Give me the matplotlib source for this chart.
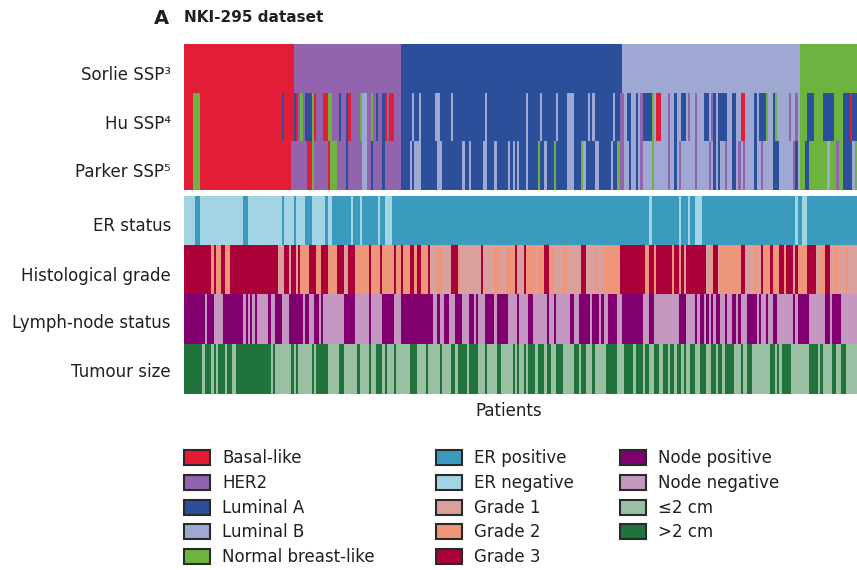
import numpy as np
import matplotlib.pyplot as plt
from matplotlib.colors import to_rgb
from matplotlib.patches import Rectangle

plt.rcParams["font.family"] = ["DejaVu Sans"]

N_PATIENTS = 295
TEXT = "#231f20"

# Category colours
SUBTYPE_COLORS = {"B": "#e31d35", "H": "#9264ad", "A": "#2b4f9b", "L": "#9fa8d2", "N": "#6db33f"}
ER_COLORS = {"P": "#3a9bbf", "N": "#a3d4e3"}
GRADE_COLORS = {"1": "#d9a09e", "2": "#ee967a", "3": "#ab0038"}
NODE_COLORS = {"P": "#800070", "N": "#c397c0"}
SIZE_COLORS = {"S": "#9ac0a3", "L": "#1f733b"}

# Each row is a list of (first patient index, category); a run lasts until the next start.
SORLIE = [(0, "B"), (48, "H"), (95, "A"), (192, "L"), (270, "N")]

HU = [(0, "B"), (4, "N"), (7, "B"), (43, "A"), (44, "B"), (48, "A"), (49, "B"), (50, "H"),
      (51, "N"), (52, "H"), (53, "A"), (56, "N"), (57, "B"), (58, "H"), (61, "B"), (63, "N"),
      (65, "H"), (68, "A"), (69, "H"), (71, "A"), (72, "B"), (73, "H"), (77, "N"), (78, "L"),
      (80, "H"), (82, "N"), (83, "H"), (84, "A"), (85, "H"), (87, "A"), (88, "B"), (89, "H"),
      (90, "B"), (92, "H"), (95, "A"), (100, "L"), (101, "A"), (103, "L"), (104, "A"),
      (110, "L"), (112, "A"), (117, "L"), (118, "A"), (132, "L"), (133, "A"), (150, "L"),
      (151, "A"), (156, "L"), (157, "A"), (163, "L"), (164, "A"), (168, "L"), (171, "A"),
      (177, "L"), (178, "A"), (179, "L"), (180, "A"), (188, "L"), (189, "A"), (191, "H"),
      (193, "L"), (194, "A"), (196, "L"), (198, "A"), (199, "L"), (200, "H"), (201, "A"),
      (205, "N"), (206, "L"), (207, "B"), (209, "L"), (212, "H"), (213, "L"), (215, "A"),
      (216, "L"), (218, "A"), (220, "L"), (221, "H"), (222, "L"), (224, "H"), (225, "L"),
      (228, "A"), (230, "L"), (231, "H"), (232, "A"), (233, "L"), (234, "A"), (238, "L"),
      (240, "A"), (242, "L"), (244, "B"), (246, "L"), (250, "A"), (251, "L"), (252, "A"),
      (255, "N"), (256, "L"), (258, "A"), (259, "N"), (260, "L"), (265, "H"), (266, "L"),
      (268, "H"), (269, "L"), (270, "N"), (273, "A"), (276, "N"), (280, "A"), (285, "N"),
      (289, "A"), (292, "B"), (293, "A")]

PARKER = [(0, "B"), (4, "N"), (7, "B"), (47, "H"), (54, "B"), (56, "N"), (57, "H"), (63, "B"),
          (64, "N"), (67, "H"), (71, "A"), (72, "H"), (78, "L"), (80, "H"), (82, "A"), (83, "H"),
          (87, "A"), (88, "H"), (95, "A"), (99, "L"), (100, "A"), (101, "L"), (104, "A"),
          (111, "L"), (113, "A"), (122, "L"), (123, "A"), (125, "L"), (126, "A"), (131, "L"),
          (133, "A"), (136, "L"), (137, "A"), (142, "L"), (143, "A"), (144, "L"), (145, "A"),
          (146, "L"), (147, "A"), (150, "L"), (151, "A"), (155, "N"), (156, "A"), (158, "L"),
          (159, "A"), (162, "N"), (163, "A"), (168, "L"), (171, "A"), (174, "N"), (175, "L"),
          (176, "A"), (180, "L"), (182, "A"), (187, "L"), (188, "A"), (190, "N"), (191, "H"),
          (193, "L"), (195, "A"), (196, "L"), (198, "A"), (199, "L"), (200, "H"), (201, "L"),
          (205, "N"), (206, "L"), (212, "H"), (213, "L"), (215, "A"), (216, "L"), (217, "H"),
          (218, "L"), (224, "H"), (225, "L"), (230, "H"), (231, "L"), (232, "A"), (233, "L"),
          (234, "A"), (235, "L"), (237, "H"), (238, "L"), (240, "A"), (242, "L"), (243, "H"),
          (244, "L"), (245, "H"), (246, "L"), (250, "A"), (251, "L"), (253, "H"), (254, "L"),
          (258, "A"), (261, "L"), (267, "H"), (268, "A"), (269, "L"), (270, "N"), (272, "A"),
          (274, "N"), (282, "L"), (283, "N"), (286, "H"), (287, "N"), (289, "A"), (293, "L"),
          (294, "N")]

ER_STATUS = [(0, "N"), (5, "P"), (7, "N"), (26, "P"), (28, "N"), (43, "P"), (44, "N"), (48, "P"),
             (49, "N"), (53, "P"), (56, "N"), (62, "P"), (63, "N"), (65, "P"), (73, "N"), (74, "P"),
             (77, "N"), (78, "P"), (85, "N"), (86, "P"), (88, "N"), (91, "P"), (204, "N"),
             (205, "P"), (217, "N"), (218, "P"), (221, "N"), (222, "P"), (224, "N"), (227, "P"),
             (268, "N"), (269, "P"), (271, "N"), (273, "P")]

GRADE = [(0, "3"), (12, "2"), (13, "3"), (14, "2"), (16, "3"), (18, "2"), (20, "3"), (41, "1"),
         (44, "3"), (46, "1"), (47, "3"), (49, "1"), (50, "3"), (51, "2"), (55, "3"), (58, "2"),
         (60, "3"), (63, "2"), (67, "3"), (70, "1"), (72, "3"), (75, "2"), (81, "3"), (82, "2"),
         (86, "3"), (87, "2"), (92, "3"), (93, "2"), (95, "3"), (96, "2"), (99, "3"), (101, "2"),
         (102, "3"), (104, "2"), (107, "3"), (108, "1"), (111, "2"), (113, "1"), (117, "3"),
         (120, "2"), (121, "1"), (130, "3"), (131, "1"), (136, "2"), (138, "1"), (141, "2"),
         (145, "3"), (146, "1"), (149, "3"), (150, "2"), (154, "1"), (155, "2"), (158, "3"),
         (160, "2"), (162, "1"), (166, "2"), (168, "1"), (174, "3"), (176, "1"), (180, "2"),
         (181, "1"), (184, "2"), (191, "3"), (202, "2"), (204, "3"), (206, "2"), (207, "3"),
         (214, "2"), (215, "3"), (217, "2"), (218, "3"), (219, "1"), (220, "3"), (229, "1"),
         (231, "2"), (232, "3"), (234, "1"), (235, "2"), (244, "3"), (246, "1"), (250, "2"),
         (251, "1"), (253, "3"), (254, "2"), (257, "3"), (258, "2"), (261, "3"), (263, "2"),
         (264, "3"), (267, "1"), (268, "3"), (269, "2"), (273, "3"), (277, "1"), (279, "2"),
         (281, "3"), (283, "1"), (285, "2"), (287, "1"), (290, "2"), (291, "1")]

NODE = [(0, "P"), (9, "N"), (10, "P"), (13, "N"), (17, "P"), (26, "N"), (27, "P"), (28, "N"),
        (29, "P"), (30, "N"), (31, "P"), (32, "N"), (37, "P"), (38, "N"), (40, "P"), (43, "N"),
        (46, "P"), (52, "N"), (53, "P"), (55, "N"), (57, "P"), (59, "N"), (60, "P"), (61, "N"),
        (70, "P"), (75, "N"), (81, "P"), (82, "N"), (87, "P"), (92, "N"), (95, "P"), (109, "N"),
        (111, "P"), (112, "N"), (114, "P"), (116, "N"), (119, "P"), (122, "N"), (125, "P"),
        (127, "N"), (128, "P"), (129, "N"), (132, "P"), (136, "N"), (137, "P"), (142, "N"),
        (146, "P"), (147, "N"), (151, "P"), (153, "N"), (159, "P"), (160, "N"), (162, "P"),
        (163, "N"), (169, "P"), (171, "N"), (173, "P"), (178, "N"), (179, "P"), (182, "N"),
        (183, "P"), (184, "N"), (186, "P"), (190, "N"), (192, "P"), (201, "N"), (204, "P"),
        (206, "N"), (217, "P"), (220, "N"), (224, "P"), (225, "N"), (226, "P"), (228, "N"),
        (229, "P"), (230, "N"), (231, "P"), (232, "N"), (233, "P"), (235, "N"), (237, "P"),
        (238, "N"), (240, "P"), (242, "N"), (243, "P"), (244, "N"), (247, "P"), (251, "N"),
        (252, "P"), (253, "N"), (255, "P"), (256, "N"), (258, "P"), (260, "N"), (267, "P"),
        (268, "N"), (269, "P"), (274, "N"), (281, "P"), (283, "N"), (284, "P"), (288, "N")]

TUMOUR_SIZE = [(0, "L"), (8, "S"), (9, "L"), (12, "S"), (13, "L"), (14, "S"), (15, "L"), (18, "S"),
               (19, "L"), (21, "S"), (23, "L"), (38, "S"), (39, "L"), (40, "S"), (47, "L"), (48, "S"),
               (49, "L"), (50, "S"), (56, "L"), (57, "S"), (58, "L"), (63, "S"), (68, "L"), (70, "S"),
               (76, "L"), (77, "S"), (81, "L"), (82, "S"), (84, "L"), (87, "S"), (88, "L"), (89, "S"),
               (92, "L"), (93, "S"), (99, "L"), (102, "S"), (106, "L"), (107, "S"), (112, "L"),
               (113, "S"), (117, "L"), (119, "S"), (120, "L"), (124, "S"), (125, "L"), (129, "S"),
               (132, "L"), (133, "S"), (137, "L"), (139, "S"), (144, "L"), (145, "S"), (146, "L"),
               (147, "S"), (149, "L"), (150, "S"), (151, "L"), (154, "S"), (155, "L"), (158, "S"),
               (159, "L"), (161, "S"), (163, "L"), (166, "S"), (171, "L"), (173, "S"), (174, "L"),
               (176, "S"), (179, "L"), (180, "S"), (185, "L"), (190, "S"), (193, "L"), (197, "S"),
               (198, "L"), (201, "S"), (202, "L"), (204, "S"), (206, "L"), (208, "S"), (210, "L"),
               (212, "S"), (213, "L"), (215, "S"), (216, "L"), (218, "S"), (219, "L"), (220, "S"),
               (222, "L"), (224, "S"), (226, "L"), (229, "S"), (231, "L"), (233, "S"), (234, "L"),
               (236, "S"), (237, "L"), (241, "S"), (244, "L"), (245, "S"), (247, "L"), (249, "S"),
               (257, "L"), (259, "S"), (260, "L"), (261, "S"), (262, "L"), (266, "S"), (274, "L"),
               (278, "S"), (279, "L"), (280, "S"), (284, "L"), (286, "S"), (288, "L"), (290, "S")]

SUBTYPE_ROWS = ["Sorlie SSP³", "Hu SSP⁴", "Parker SSP⁵"]
CLINICAL_ROWS = ["ER status", "Histological grade", "Lymph-node status", "Tumour size"]

LEGEND_COLUMNS = [
    [("Basal-like", SUBTYPE_COLORS["B"]), ("HER2", SUBTYPE_COLORS["H"]),
     ("Luminal A", SUBTYPE_COLORS["A"]), ("Luminal B", SUBTYPE_COLORS["L"]),
     ("Normal breast-like", SUBTYPE_COLORS["N"])],
    [("ER positive", ER_COLORS["P"]), ("ER negative", ER_COLORS["N"]),
     ("Grade 1", GRADE_COLORS["1"]), ("Grade 2", GRADE_COLORS["2"]), ("Grade 3", GRADE_COLORS["3"])],
    [("Node positive", NODE_COLORS["P"]), ("Node negative", NODE_COLORS["N"]),
     ("≤2 cm", SIZE_COLORS["S"]), (">2 cm", SIZE_COLORS["L"])],
]


def expand(runs):
    """Turn (start, category) runs into one category per patient."""
    starts = [s for s, _ in runs] + [N_PATIENTS]
    out = []
    for (start, cat), end in zip(runs, starts[1:]):
        out += [cat] * (end - start)
    return out


def to_image(rows):
    """Stack rows of (runs, palette) into an RGB array."""
    img = np.zeros((len(rows), N_PATIENTS, 3))
    for i, (runs, palette) in enumerate(rows):
        img[i] = [to_rgb(palette[c]) for c in expand(runs)]
    return img


W, H = 857, 570
fig = plt.figure(figsize=(W / 100, H / 100), dpi=100)


def px_axes(x0, y0, x1, y1):
    return fig.add_axes([x0 / W, 1 - y1 / H, (x1 - x0) / W, (y1 - y0) / H])


sub_img = to_image([(SORLIE, SUBTYPE_COLORS), (HU, SUBTYPE_COLORS), (PARKER, SUBTYPE_COLORS)])
clin_img = to_image([(ER_STATUS, ER_COLORS), (GRADE, GRADE_COLORS),
                     (NODE, NODE_COLORS), (TUMOUR_SIZE, SIZE_COLORS)])

ax_sub = px_axes(184, 44, 857, 190)
ax_sub.imshow(sub_img, aspect="auto", interpolation="nearest")
ax_sub.axis("off")

ax_clin = px_axes(184, 196, 857, 394)
ax_clin.imshow(clin_img, aspect="auto", interpolation="nearest")
ax_clin.axis("off")

# Row labels
label_y = [75, 124, 172, 226, 276, 323, 372]
for y, name in zip(label_y, SUBTYPE_ROWS + CLINICAL_ROWS):
    fig.text(171 / W, 1 - y / H, name, ha="right", va="center", fontsize=12, color=TEXT)

fig.text(154 / W, 1 - 18 / H, "A", ha="left", va="center", fontsize=14, weight="bold", color=TEXT)
fig.text(184 / W, 1 - 18 / H, "NKI-295 dataset", ha="left", va="center", fontsize=11,
         weight="bold", color=TEXT)
fig.text(509 / W, 1 - 411 / H, "Patients", ha="center", va="center", fontsize=12, color=TEXT)

# Legend
col_x = [184, 436, 620]
row_y = [458, 483, 508, 532, 557]
for cx, entries in zip(col_x, LEGEND_COLUMNS):
    for cy, (name, color) in zip(row_y, entries):
        fig.patches.append(Rectangle((cx / W, 1 - (cy + 7) / H), 26 / W, 15 / H,
                                     transform=fig.transFigure, facecolor=color,
                                     edgecolor="#2a2a2a", linewidth=1.5))
        fig.text((cx + 38) / W, 1 - cy / H, name, ha="left", va="center", fontsize=12, color=TEXT)

fig.savefig("out.png", dpi=100)
